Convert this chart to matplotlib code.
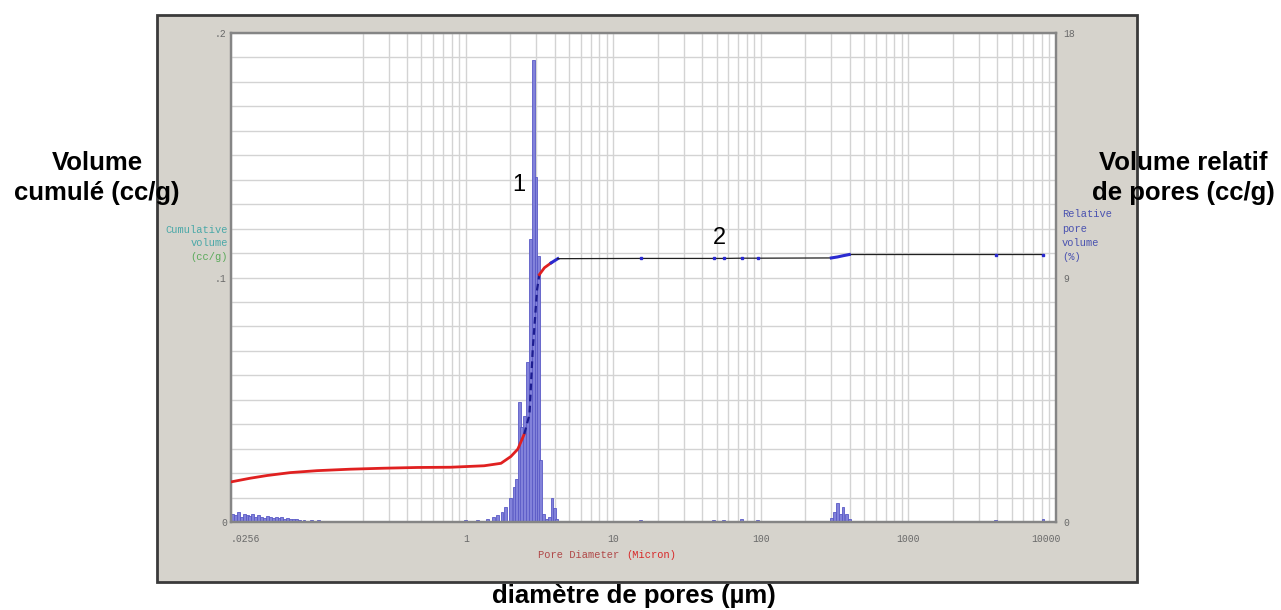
import matplotlib
matplotlib.use('Agg')
import matplotlib.pyplot as plt
from matplotlib.patches import Rectangle
from matplotlib.ticker import FixedLocator, NullFormatter
import matplotlib.transforms as mtransforms

# ---------------- data ----------------
cum_diam = [0.0256, 0.0345, 0.0448, 0.0645, 0.098, 0.165, 0.278, 0.469, 0.79, 1.33,
            1.73, 2.02, 2.25, 2.49, 2.70, 2.84, 2.95, 3.04, 3.15, 3.41,
            3.79, 4.20, 15.3, 47.9, 56, 74, 95, 300, 330, 360,
            397, 3900, 8160]
cum_vol = [0.0164, 0.0179, 0.0190, 0.0202, 0.0210, 0.0216, 0.0220, 0.0223, 0.0224, 0.0230,
           0.0240, 0.0268, 0.0298, 0.0360, 0.0440, 0.0705, 0.0841, 0.0951, 0.1012, 0.1040,
           0.1060, 0.1077, 0.1078, 0.1078, 0.1078, 0.1079, 0.1079, 0.1080, 0.1084, 0.1089,
           0.1094, 0.1094, 0.1094]

hist_diam = [0.0262, 0.0274, 0.0287, 0.0300, 0.0314, 0.0329, 0.0344, 0.0360, 0.0377, 0.0395,
             0.0413, 0.0432, 0.0452, 0.0473, 0.0495, 0.0518, 0.0542, 0.0567, 0.0594, 0.0622,
             0.0651, 0.0681, 0.0713, 0.0746, 0.080, 0.090, 0.10, 0.12, 0.14, 0.17,
             0.20, 0.25, 0.30, 0.40, 0.50, 0.60, 0.80, 1.0, 1.2, 1.4,
             1.55, 1.65, 1.76, 1.87, 2.02, 2.12, 2.22, 2.31, 2.40, 2.50,
             2.62, 2.75, 2.86, 2.99, 3.11, 3.21, 3.34, 3.50, 3.70, 3.84,
             3.97, 4.1, 15.3, 47.9, 56, 74, 95, 300, 314, 330,
             345, 360, 378, 397, 3900, 8160]
hist_pct = [0.30, 0.25, 0.35, 0.20, 0.30, 0.25, 0.22, 0.28, 0.18, 0.24,
            0.20, 0.16, 0.22, 0.18, 0.15, 0.20, 0.14, 0.17, 0.12, 0.15,
            0.12, 0.10, 0.12, 0.09, 0.08, 0.07, 0.06, 0.05, 0.05, 0.05,
            0.04, 0.05, 0.04, 0.04, 0.05, 0.04, 0.05, 0.06, 0.08, 0.12,
            0.18, 0.25, 0.35, 0.55, 0.9, 1.3, 1.6, 4.4, 3.5, 3.9,
            5.9, 10.4, 17.0, 12.7, 9.8, 2.3, 0.3, 0.1, 0.2, 0.9,
            0.5, 0.1, 0.08, 0.06, 0.06, 0.10, 0.06, 0.15, 0.35, 0.7,
            0.3, 0.55, 0.3, 0.1, 0.06, 0.10]

x_ticks = [0.0256, 1, 10, 100, 1000, 10000]
x_tick_labels = ['.0256', '1', '10', '100', '1000', '10000']
left_ticks = [0, 0.1, 0.2]
left_tick_labels = ['0', '.1', '.2']
right_ticks = [0, 9, 18]
right_tick_labels = ['0', '9', '18']
marker_diam = [15.3, 47.9, 56, 74, 95, 3900, 8160]

# ---------------- figure ----------------
W, H = 1281, 610
fig = plt.figure(figsize=(W / 100, H / 100), dpi=100)
fig.patch.set_facecolor('white')


def fx(px):
    return px / W


def fy(py):
    return 1 - py / H


panel = Rectangle((fx(157), fy(582)), fx(1137) - fx(157), fy(15) - fy(582),
                  transform=fig.transFigure, facecolor='#d6d3cc',
                  edgecolor='#3a3a3a', lw=2, zorder=-5)
fig.patches.append(panel)

rect = [fx(231), fy(522), fx(1056) - fx(231), fy(33) - fy(522)]
ax_r = fig.add_axes(rect)
ax_r.set_facecolor('white')
ax_l = ax_r.twinx()
ax_r.yaxis.tick_right()
ax_l.yaxis.tick_left()

ax_r.set_xscale('log')
ax_r.set_xlim(0.0256, 10000)
ax_r.set_ylim(0, 18)
ax_l.set_ylim(0, 0.2)

# grid
minor_grid = [k * 10.0 ** e for e in range(-1, 4) for k in range(2, 10)]
ax_r.xaxis.set_major_locator(FixedLocator(x_ticks))
ax_r.set_xticklabels(x_tick_labels)
ax_r.xaxis.set_minor_locator(FixedLocator(minor_grid))
ax_r.xaxis.set_minor_formatter(NullFormatter())
ax_r.set_yticks(right_ticks)
ax_r.set_yticklabels(right_tick_labels)
ax_r.yaxis.set_minor_locator(FixedLocator([0.9 * i for i in range(21)]))
ax_r.set_axisbelow(True)
ax_r.grid(True, which='both', color='#d3d3d3', lw=1.0)

ax_l.set_yticks(left_ticks)
ax_l.set_yticklabels(left_tick_labels)

mono = 'Liberation Mono'
for a in (ax_r, ax_l):
    a.tick_params(which='both', length=0)
    for s in a.spines.values():
        s.set_color('#858585')
        s.set_linewidth(1.6)
ax_r.tick_params(axis='x', pad=9, labelsize=7, labelcolor='#6a6a6a')
ax_r.tick_params(axis='y', pad=5, labelsize=7, labelcolor='#6a6a6a')
ax_l.tick_params(axis='y', pad=3, labelsize=7, labelcolor='#6a6a6a')
for lab in ax_r.get_xticklabels() + ax_r.get_yticklabels() + ax_l.get_yticklabels():
    lab.set_fontfamily(mono)
xlabs = ax_r.get_xticklabels()
xlabs[0].set_horizontalalignment('left')
xlabs[-1].set_transform(xlabs[-1].get_transform()
                        + mtransforms.ScaledTranslation(-10 / 100, 0, fig.dpi_scale_trans))

# histogram (relative pore volume)
ax_r.bar(hist_diam, hist_pct, width=[d * 0.045 for d in hist_diam],
         color='#8282da', edgecolor='#5a5ac6', lw=0.6, zorder=2)

# cumulative curve
def seg(i0, i1, **kw):
    ax_l.plot(cum_diam[i0:i1 + 1], cum_vol[i0:i1 + 1], **kw)


seg(0, 13, color='#e02020', lw=2.0, solid_capstyle='round', zorder=3)
seg(13, 18, color='#1c1c90', lw=1.6, ls=(0, (3, 2)), zorder=3)
seg(18, 20, color='#e02020', lw=2.0, zorder=3)
seg(20, 21, color='#2a2ad0', lw=2.2, zorder=3)
seg(21, len(cum_diam) - 1, color='#202020', lw=0.9, zorder=3)
seg(27, 30, color='#2a2ad0', lw=2.2, zorder=4)
mk_idx = [cum_diam.index(d) for d in marker_diam]
ax_l.plot([cum_diam[i] for i in mk_idx], [cum_vol[i] for i in mk_idx],
          ls='none', marker='s', ms=2.0, color='#2a2ad0', zorder=5)

# ---------------- texts ----------------
sans = 'Liberation Sans'
fig.text(fx(97), fy(178), 'Volume\ncumulé (cc/g)', ha='center', va='center',
         fontsize=18.5, fontweight='bold', family=sans, linespacing=1.35)
fig.text(fx(1183), fy(178), 'Volume relatif\nde pores (cc/g)', ha='center', va='center',
         fontsize=18.5, fontweight='bold', family=sans, linespacing=1.35)
fig.text(fx(634), fy(596), 'diamètre de pores (µm)', ha='center', va='center',
         fontsize=18.5, fontweight='bold', family=sans)
fig.text(fx(519), fy(185), '1', ha='center', va='center', fontsize=17, family=sans)
fig.text(fx(719), fy(238), '2', ha='center', va='center', fontsize=17, family=sans)

fig.text(fx(228), fy(230), 'Cumulative', ha='right', va='center', fontsize=7.5,
         family=mono, color='#4aa8a8')
fig.text(fx(228), fy(243), 'volume', ha='right', va='center', fontsize=7.5,
         family=mono, color='#4aa8a8')
fig.text(fx(228), fy(257), '(cc/g)', ha='right', va='center', fontsize=7.5,
         family=mono, color='#5aaa5a')
for txt, yy in [('Relative', 214), ('pore', 229), ('volume', 243), ('(%)', 257)]:
    fig.text(fx(1062), fy(yy), txt, ha='left', va='center', fontsize=7.5,
             family=mono, color='#4a52b0')
fig.text(fx(626), fy(555), 'Pore Diameter ', ha='right', va='center', fontsize=7.5,
         family=mono, color='#b04848')
fig.text(fx(626), fy(555), '(Micron)', ha='left', va='center', fontsize=7.5,
         family=mono, color='#d82828')

fig.savefig('out.png', dpi=100, facecolor='white')
